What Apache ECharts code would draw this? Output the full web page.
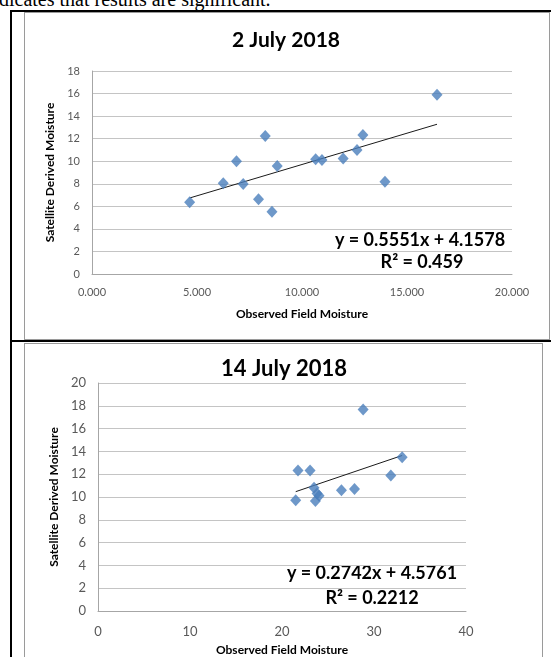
<!DOCTYPE html>
<html><head><meta charset="utf-8">
<script src="https://cdn.jsdelivr.net/npm/echarts@6/dist/echarts.min.js"></script>
<style>
html,body{margin:0;padding:0;background:#fff;width:551px;height:657px;overflow:hidden;position:relative;}
#top{position:absolute;left:-1px;top:-11px;font:20px "Liberation Serif",serif;color:#000;white-space:nowrap;line-height:20px;}
.thick{position:absolute;background:#000;}
.frame{position:absolute;border:1px solid #9a9a9a;box-sizing:border-box;}
#chart{position:absolute;left:0;top:0;width:551px;height:657px;}
</style></head><body>
<div id="top">dicates that results are significant.</div>
<div class="thick" style="left:10px;top:10px;width:541px;height:2px"></div>
<div class="thick" style="left:10px;top:10px;width:2px;height:647px"></div>
<div class="thick" style="left:10px;top:340px;width:541px;height:2px"></div>
<div class="frame" style="left:24px;top:12px;width:526px;height:328px"></div>
<div class="frame" style="left:24px;top:343px;width:519px;height:320px"></div>
<div id="chart"></div>
<script>
// ---- 2 July 2018 ----
const july2_title = '2 July 2018';
const july2_observed  = [4.65, 6.25, 6.88, 7.20, 7.93, 8.25, 8.57, 8.82, 10.65, 10.95, 11.96, 12.62, 12.90, 13.95, 16.43];
const july2_satellite = [6.36, 8.04, 9.99, 7.98, 6.62, 12.23, 5.52, 9.57, 10.17, 10.10, 10.25, 10.99, 12.32, 8.18, 15.90];
const july2_trendCoef = [0.5551, 4.1578];   // slope, intercept
const july2_r2 = '0.459';
const july2_xTicks = [0, 5, 10, 15, 20];
const july2_yTicks = [0, 2, 4, 6, 8, 10, 12, 14, 16, 18];

// ---- 14 July 2018 ----
const july14_title = '14 July 2018';
const july14_observed  = [21.49, 21.74, 23.05, 23.48, 23.63, 23.81, 24.03, 26.46, 27.88, 28.82, 31.83, 33.06];
const july14_satellite = [9.71, 12.32, 12.32, 10.82, 9.65, 10.30, 10.12, 10.59, 10.70, 17.67, 11.88, 13.48];
const july14_trendCoef = [0.2742, 4.5761];
const july14_r2 = '0.2212';
const july14_xTicks = [0, 10, 20, 30, 40];
const july14_yTicks = [0, 2, 4, 6, 8, 10, 12, 14, 16, 18, 20];

const xName = 'Observed Field Moisture';
const yName = 'Satellite Derived Moisture';

function pts(xs, ys){ return xs.map((x,i)=>[x, ys[i]]); }
function trend(xs, c){
  const lo = Math.min(...xs), hi = Math.max(...xs);
  return [[lo, c[0]*lo + c[1]], [hi, c[0]*hi + c[1]]];
}
function eqText(c){ return 'y = ' + c[0].toFixed(4) + 'x + ' + c[1].toFixed(4); }

const F = 'Lato, "Open Sans", sans-serif';
const gridLine = {show:true, lineStyle:{color:'#c4c4c4', width:1}};
const axisLine = {show:true, lineStyle:{color:'#a6a6a6', width:1}};

function xAxis(ticks, gi, dec, fs, margin, gap){
  return {type:'value', gridIndex:gi, min:ticks[0], max:ticks[ticks.length-1], interval:ticks[1]-ticks[0],
    splitLine:{show:false}, axisLine:axisLine, axisTick:{show:false},
    axisLabel:{color:'#595959', fontSize:fs, fontFamily:F, margin:margin, formatter:v=>v.toFixed(dec)},
    name:xName, nameLocation:'middle', nameGap:gap,
    nameTextStyle:{color:'#000', fontWeight:'bold', fontSize:12, fontFamily:F}};
}
function yAxis(ticks, gi, fs, margin, gap){
  return {type:'value', gridIndex:gi, min:ticks[0], max:ticks[ticks.length-1], interval:ticks[1]-ticks[0],
    splitLine:gridLine, axisLine:axisLine, axisTick:{show:false},
    axisLabel:{color:'#595959', fontSize:fs, fontFamily:F, margin:margin},
    name:yName, nameLocation:'middle', nameGap:gap, nameRotate:90,
    nameTextStyle:{color:'#000', fontWeight:'bold', fontSize:12, fontFamily:F}};
}

const mark = {color:'#4a7ebb'};
const chart = echarts.init(document.getElementById('chart'), null, {renderer:'canvas'});
chart.setOption({
  animation:false,
  grid:[
    {left:92, top:71, width:420, height:203},
    {left:98, top:383, width:368, height:228}
  ],
  xAxis:[ xAxis(july2_xTicks, 0, 3, 11, 13, 34), xAxis(july14_xTicks, 1, 0, 13, 14, 33) ],
  yAxis:[ yAxis(july2_yTicks, 0, 11, 12, 33), yAxis(july14_yTicks, 1, 13, 12, 33) ],
  series:[
    {type:'line', xAxisIndex:0, yAxisIndex:0, data:trend(july2_observed, july2_trendCoef), symbol:'none',
      lineStyle:{color:'#1a1a1a', width:1}, z:1},
    {type:'scatter', xAxisIndex:0, yAxisIndex:0, data:pts(july2_observed, july2_satellite),
      symbol:'diamond', symbolSize:[11,12], itemStyle:mark, z:2},
    {type:'line', xAxisIndex:1, yAxisIndex:1, data:trend(july14_observed, july14_trendCoef), symbol:'none',
      lineStyle:{color:'#1a1a1a', width:1}, z:1},
    {type:'scatter', xAxisIndex:1, yAxisIndex:1, data:pts(july14_observed, july14_satellite),
      symbol:'diamond', symbolSize:[11,12], itemStyle:mark, z:2}
  ],
  graphic:[
    {type:'text', x:286, y:40, style:{text:july2_title, font:'bold 21px '+F, fill:'#000', textAlign:'center', textVerticalAlign:'middle'}},
    {type:'text', x:420, y:240, style:{text:eqText(july2_trendCoef), font:'bold 18px '+F, fill:'#000', textAlign:'center', textVerticalAlign:'middle'}},
    {type:'text', x:422, y:262, style:{text:'R\u00B2 = '+july2_r2, font:'bold 18px '+F, fill:'#000', textAlign:'center', textVerticalAlign:'middle'}},
    {type:'text', x:284, y:369, style:{text:july14_title, font:'bold 22px '+F, fill:'#000', textAlign:'center', textVerticalAlign:'middle'}},
    {type:'text', x:372, y:573, style:{text:eqText(july14_trendCoef), font:'bold 18px '+F, fill:'#000', textAlign:'center', textVerticalAlign:'middle'}},
    {type:'text', x:372, y:598, style:{text:'R\u00B2 = '+july14_r2, font:'bold 18px '+F, fill:'#000', textAlign:'center', textVerticalAlign:'middle'}}
  ]
});
</script>
</body></html>
